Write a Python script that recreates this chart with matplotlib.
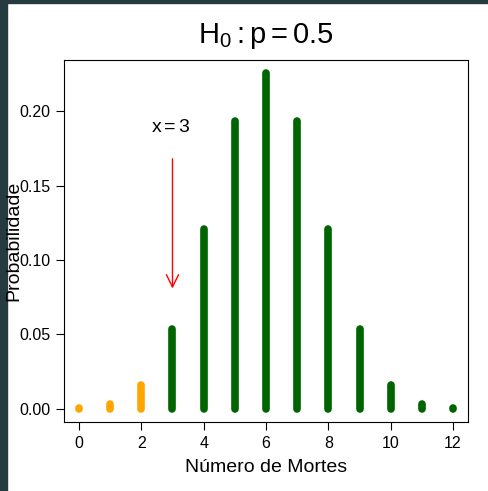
import matplotlib.pyplot as plt
from matplotlib.patches import Rectangle

plt.rcParams['font.family'] = ['Liberation Sans', 'DejaVu Sans']
plt.rcParams['mathtext.fontset'] = 'custom'
plt.rcParams['mathtext.rm'] = 'Liberation Sans'
plt.rcParams['mathtext.it'] = 'Liberation Sans'

# numero de mortes e probabilidades
mortes = [0, 1, 2, 3, 4, 5, 6, 7, 8, 9, 10, 11, 12]
prob = [0.0002, 0.0029, 0.0161, 0.0537, 0.1208, 0.1934, 0.2256,
        0.1934, 0.1208, 0.0537, 0.0161, 0.0029, 0.0002]
x_obs = 3
seta_ini = 0.170
seta_fim = 0.079
texto_y = 0.189

fig = plt.figure(figsize=(4.88, 4.91), dpi=100, facecolor='white')
fig.patches.append(Rectangle((0, 0), 7 / 488, 1, transform=fig.transFigure,
                             color='#253b40', zorder=-1))
fig.patches.append(Rectangle((0, 1 - 3 / 491), 1, 3 / 491, transform=fig.transFigure,
                             color='#253b40', zorder=-1))

ax = fig.add_axes([64 / 488, 1 - 422 / 491, 404 / 488, 362 / 491])

for k, p in zip(mortes, prob):
    cor = 'orange' if k < x_obs else 'darkgreen'
    ax.plot([k, k], [0, p], color=cor, lw=5.5, solid_capstyle='round')

ax.annotate('', xy=(x_obs, seta_fim), xytext=(x_obs, seta_ini),
            arrowprops=dict(arrowstyle='->', color='red', lw=1, mutation_scale=22))
ax.text(x_obs - 0.05, texto_y, r'$\mathrm{x = 3}$', ha='center', va='center', fontsize=14)

ax.set_xlim(-0.48, 12.48)
ax.set_ylim(-0.009, 0.2346)
ax.set_xticks([0, 2, 4, 6, 8, 10, 12])
ax.set_yticks([0, 0.05, 0.10, 0.15, 0.20])
ax.set_yticklabels(['0.00', '0.05', '0.10', '0.15', '0.20'])
ax.tick_params(direction='out', length=6, labelsize=11.5, pad=4)
ax.set_xlabel('Número de Mortes', fontsize=14, labelpad=6)
ax.set_ylabel('Probabilidade', fontsize=14)
ax.yaxis.set_label_coords(-0.102, 0.5)
ax.set_title(r'$\mathrm{H_0 : p = 0.5}$', fontsize=21, pad=12)

fig.savefig('out.png', dpi=100)
